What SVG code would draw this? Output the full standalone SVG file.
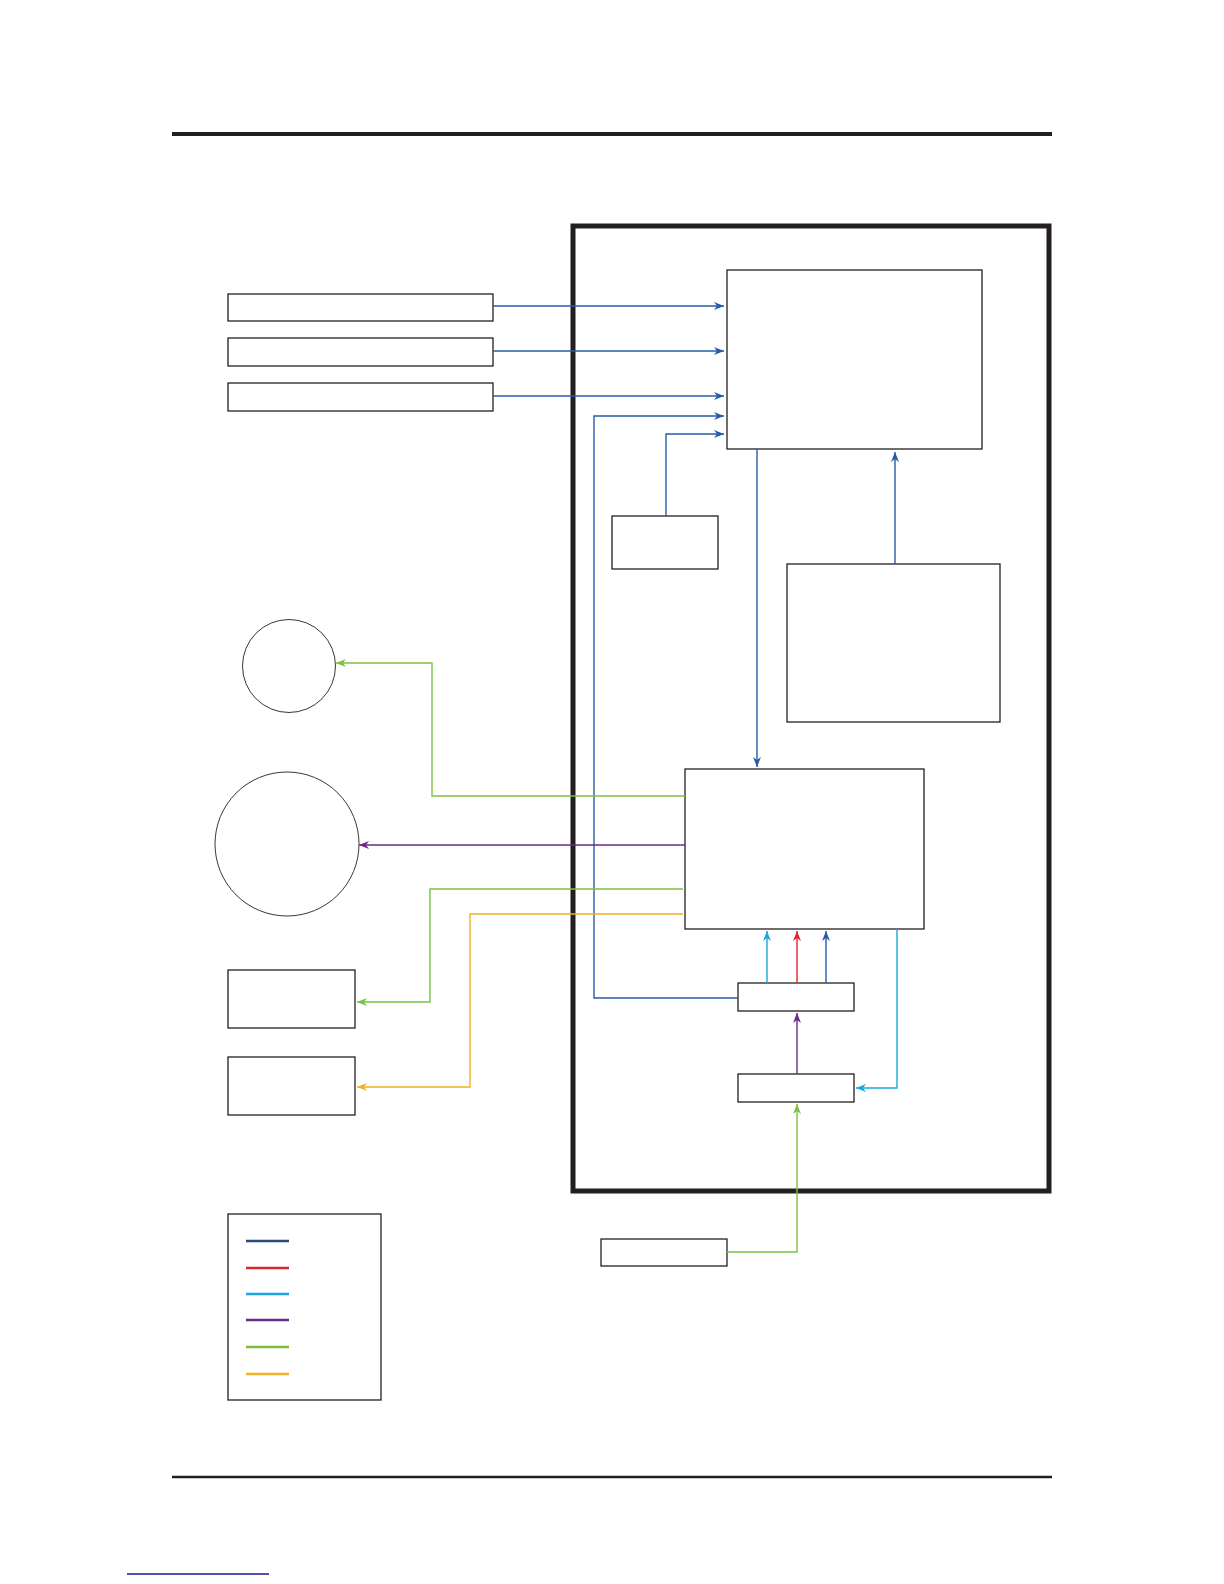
<svg xmlns="http://www.w3.org/2000/svg" width="1224" height="1584" viewBox="0 0 1224 1584">
<style>
.box{fill:#fff;stroke:#231f20;stroke-width:1.3}
.circ{fill:#fff;stroke:#231f20;stroke-width:0.9}
.c{fill:none;stroke-width:1.4}
.blue{stroke:#2a5ba8}
.red{stroke:#e0262e}
.cyan{stroke:#1aa7e0}
.purple{stroke:#6a2a8c}
.green{stroke:#7ac143}
.yellow{stroke:#f0b323}
.leg{stroke-width:2.6}
</style>
<defs>
<marker id="mBlue" viewBox="0 0 10 8" refX="10" refY="4" markerWidth="10" markerHeight="8" markerUnits="userSpaceOnUse" orient="auto"><path d="M0,0 L10,4 L0,8 L3,4 z" fill="#2a5ba8"/></marker>
<marker id="mRed" viewBox="0 0 10 8" refX="10" refY="4" markerWidth="10" markerHeight="8" markerUnits="userSpaceOnUse" orient="auto"><path d="M0,0 L10,4 L0,8 L3,4 z" fill="#e0262e"/></marker>
<marker id="mCyan" viewBox="0 0 10 8" refX="10" refY="4" markerWidth="10" markerHeight="8" markerUnits="userSpaceOnUse" orient="auto"><path d="M0,0 L10,4 L0,8 L3,4 z" fill="#1aa7e0"/></marker>
<marker id="mPurple" viewBox="0 0 10 8" refX="10" refY="4" markerWidth="10" markerHeight="8" markerUnits="userSpaceOnUse" orient="auto"><path d="M0,0 L10,4 L0,8 L3,4 z" fill="#6a2a8c"/></marker>
<marker id="mGreen" viewBox="0 0 10 8" refX="10" refY="4" markerWidth="10" markerHeight="8" markerUnits="userSpaceOnUse" orient="auto"><path d="M0,0 L10,4 L0,8 L3,4 z" fill="#7ac143"/></marker>
<marker id="mYellow" viewBox="0 0 10 8" refX="10" refY="4" markerWidth="10" markerHeight="8" markerUnits="userSpaceOnUse" orient="auto"><path d="M0,0 L10,4 L0,8 L3,4 z" fill="#f0b323"/></marker>
</defs>
<rect width="1224" height="1584" fill="#fff"/>
<g id="page">
<line x1="172" y1="134" x2="1052" y2="134" stroke="#231f20" stroke-width="4"/>
<line x1="172" y1="1477" x2="1052" y2="1477" stroke="#231f20" stroke-width="2.5"/>
<line x1="127" y1="1574" x2="269" y2="1574" stroke="#1a1a8c" stroke-width="1.5"/>
</g>
<g id="frame"><rect x="573" y="226" width="476" height="965" fill="none" stroke="#231f20" stroke-width="5"/></g>
<g id="nodes">
<rect id="in1" class="box" x="228" y="294" width="265" height="27"/>
<rect id="in2" class="box" x="228" y="338" width="265" height="28"/>
<rect id="in3" class="box" x="228" y="383" width="265" height="28"/>
<rect id="top" class="box" x="727" y="270" width="255" height="179"/>
<rect id="small" class="box" x="612" y="516" width="106" height="53"/>
<rect id="right" class="box" x="787" y="564" width="213" height="158"/>
<rect id="mid" class="box" x="685" y="769" width="239" height="160"/>
<rect id="c" class="box" x="738" y="983" width="116" height="28"/>
<rect id="d" class="box" x="738" y="1074" width="116" height="28"/>
<rect id="e" class="box" x="601" y="1239" width="126" height="27"/>
<rect id="a" class="box" x="228" y="970" width="127" height="58"/>
<rect id="b" class="box" x="228" y="1057" width="127" height="58"/>
<circle id="circ1" class="circ" cx="289" cy="666" r="46.5"/>
<circle id="circ2" class="circ" cx="287" cy="844" r="72"/>
</g>
<g id="connectors">
<path class="c blue" d="M493,306 H724" marker-end="url(#mBlue)"/>
<path class="c blue" d="M493,351 H724" marker-end="url(#mBlue)"/>
<path class="c blue" d="M493,396 H724" marker-end="url(#mBlue)"/>
<path class="c blue" d="M738,998 H594 V416 H724" marker-end="url(#mBlue)"/>
<path class="c blue" d="M666,516 V434 H724" marker-end="url(#mBlue)"/>
<path class="c blue" d="M895,564 V452" marker-end="url(#mBlue)"/>
<path class="c blue" d="M757,449 V767" marker-end="url(#mBlue)"/>
<path class="c green" d="M685,796 H432 V663 H336" marker-end="url(#mGreen)"/>
<path class="c purple" d="M685,845 H359" marker-end="url(#mPurple)"/>
<path class="c green" d="M683,889 H430 V1002 H357" marker-end="url(#mGreen)"/>
<path class="c yellow" d="M683,914 H470 V1087 H357" marker-end="url(#mYellow)"/>
<path class="c cyan" d="M767,983 V931" marker-end="url(#mCyan)"/>
<path class="c red" d="M797,983 V931" marker-end="url(#mRed)"/>
<path class="c blue" d="M826,983 V931" marker-end="url(#mBlue)"/>
<path class="c purple" d="M797,1074 V1013" marker-end="url(#mPurple)"/>
<path class="c cyan" d="M897,929 V1088 H856" marker-end="url(#mCyan)"/>
<path class="c green" d="M727,1252 H797 V1104" marker-end="url(#mGreen)"/>
</g>
<g id="legend">
<rect class="box" x="228" y="1214" width="153" height="186"/>
<line class="leg" x1="246" y1="1241" x2="289" y2="1241" stroke="#2c4a7c"/>
<line class="leg red" x1="246" y1="1268" x2="289" y2="1268"/>
<line class="leg cyan" x1="246" y1="1294" x2="289" y2="1294"/>
<line class="leg purple" x1="246" y1="1320" x2="289" y2="1320"/>
<line class="leg green" x1="246" y1="1347" x2="289" y2="1347"/>
<line class="leg yellow" x1="246" y1="1374" x2="289" y2="1374"/>
</g>
</svg>
